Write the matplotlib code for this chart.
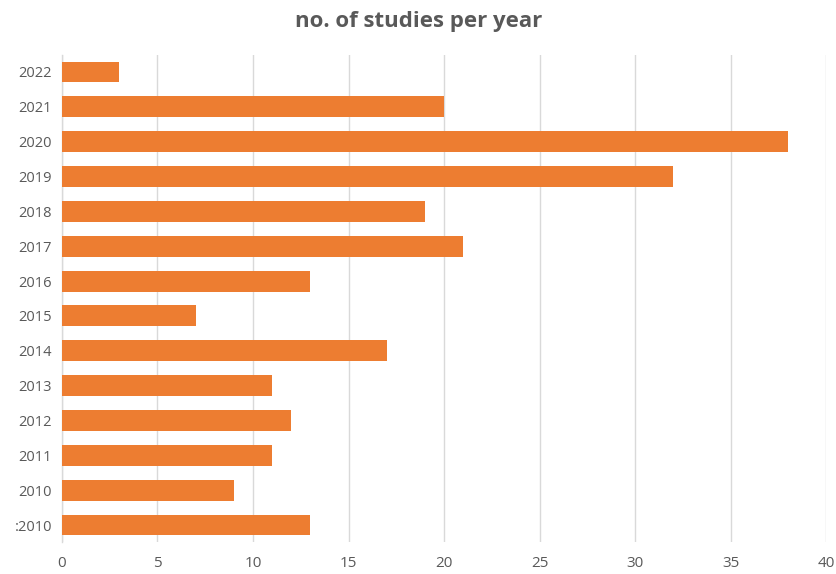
import matplotlib
matplotlib.use("Agg")
import matplotlib.pyplot as plt

years = ["2022", "2021", "2020", "2019", "2018", "2017", "2016", "2015",
         "2014", "2013", "2012", "2011", "2010", ":2010"]
studies = [3, 20, 38, 32, 19, 21, 13, 7, 17, 11, 12, 11, 9, 13]
x_ticks = [0, 5, 10, 15, 20, 25, 30, 35, 40]

plt.rcParams["font.family"] = ["Open Sans", "DejaVu Sans"]

fig = plt.figure(figsize=(8.37, 5.74), dpi=100)
ax = fig.add_axes([0.074, 0.055, 0.913, 0.85])

pos = list(range(len(years)))
ax.barh(pos, studies, height=0.6, color="#ED7D31", zorder=3)
ax.set_ylim(len(years) - 0.5, -0.5)
ax.set_yticks(pos)
ax.set_yticklabels(years)
ax.set_xlim(0, 40)
ax.set_xticks(x_ticks)

ax.grid(axis="x", color="#D9D9D9", linewidth=1, zorder=0)
for s in ["top", "right", "bottom"]:
    ax.spines[s].set_visible(False)
ax.spines["left"].set_color("#D9D9D9")
ax.spines["left"].set_linewidth(1)
ax.tick_params(axis="both", length=0, colors="#595959")
ax.tick_params(axis="x", pad=10, labelsize=11)
ax.tick_params(axis="y", pad=7, labelsize=10.5)

fig.text(0.5, 0.962, "no. of studies per year", ha="center", va="center",
         fontsize=16, fontweight="bold", color="#595959")

fig.savefig("out.png", dpi=100)
